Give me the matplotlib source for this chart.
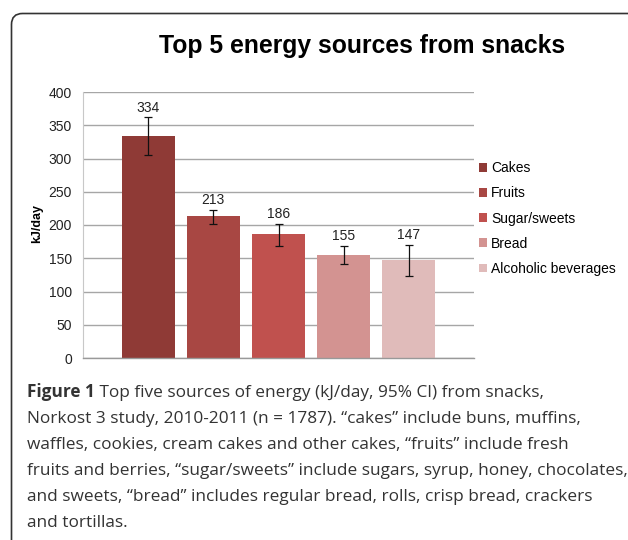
import matplotlib
matplotlib.use('Agg')
import matplotlib.pyplot as plt
from matplotlib.patches import FancyBboxPatch, Patch

# data
categories = ['Cakes', 'Fruits', 'Sugar/sweets', 'Bread', 'Alcoholic beverages']
values = [334, 213, 186, 155, 147]
ci_low = [306, 201, 169, 141, 124]
ci_high = [362, 223, 202, 169, 170]
colors = ['#8f3a36', '#a84743', '#c0514e', '#d39391', '#e0bbba']
yticks = [0, 50, 100, 150, 200, 250, 300, 350, 400]

caption_first = ' Top five sources of energy (kJ/day, 95% CI) from snacks,'
caption_lines = [
    'Norkost 3 study, 2010-2011 (n = 1787). \u201ccakes\u201d include buns, muffins,',
    'waffles, cookies, cream cakes and other cakes, \u201cfruits\u201d include fresh',
    'fruits and berries, \u201csugar/sweets\u201d include sugars, syrup, honey, chocolates,',
    'and sweets, \u201cbread\u201d includes regular bread, rolls, crisp bread, crackers',
    'and tortillas.',
]

W, H = 628, 540
fig = plt.figure(figsize=(W / 100, H / 100), dpi=100)

# background frame, in pixel units
bg = fig.add_axes([0, 0, 1, 1])
bg.set_xlim(0, W)
bg.set_ylim(H, 0)
bg.axis('off')
bg.add_patch(FancyBboxPatch((11.5, 13.5), 630, 560,
                            boxstyle='round,pad=0,rounding_size=11',
                            fc='white', ec='#333333', lw=1.2))

ax = fig.add_axes([83 / W, 1 - 358 / H, (474 - 83) / W, (358 - 92) / H])
ax.set_facecolor('none')

x = list(range(len(values)))
err_lo = [v - l for v, l in zip(values, ci_low)]
err_hi = [h - v for v, h in zip(values, ci_high)]
ax.bar(x, values, width=0.81, color=colors, zorder=2)
ax.errorbar(x, values, yerr=[err_lo, err_hi], fmt='none', ecolor='#111111',
            elinewidth=0.9, capsize=3, capthick=0.9, zorder=3)
for xi, v, h in zip(x, values, ci_high):
    ax.annotate(str(v), (xi, h), xytext=(0, 7), textcoords='offset points',
                ha='center', va='center', fontsize=10, color='#222222',
                family='Liberation Sans')

ax.set_xlim(-1, 5)
ax.set_ylim(0, 400)
ax.set_yticks(yticks)
ax.set_yticklabels([str(t) for t in yticks], fontsize=10, family='Liberation Sans',
                   color='#222222')
ax.set_xticks([])
ax.tick_params(axis='y', length=0, pad=8)
ax.grid(axis='y', color='#a6a6a6', lw=1, zorder=0)
ax.set_axisbelow(True)
for s in ['top', 'right']:
    ax.spines[s].set_visible(False)
ax.spines['left'].set_color('#c8c8c8')
ax.spines['left'].set_linewidth(0.8)
ax.spines['bottom'].set_color('#999999')
ax.spines['bottom'].set_linewidth(1)

handles = [Patch(facecolor=c, edgecolor='none', label=l) for c, l in zip(colors, categories)]
fig.legend(handles=handles, loc='center left', bbox_to_anchor=(479 / W, 1 - 218.5 / H),
           frameon=False, borderpad=0, borderaxespad=0, handlelength=0.58,
           handleheight=0.58, handletextpad=0.3, labelspacing=0.8,
           prop={'family': 'Liberation Sans', 'size': 10})

fig.text(362 / W, 1 - 46 / H, 'Top 5 energy sources from snacks', ha='center',
         va='center', fontsize=17.8, fontweight='bold', family='Liberation Sans')
fig.text(37 / W, 1 - 224 / H, 'kJ/day', rotation=90, ha='center', va='center',
         fontsize=9, fontweight='bold', family='Liberation Sans')

# caption
cap_kw = dict(fontsize=12.4, family='Open Sans', color='#333333')
fig_lbl = fig.text(27 / W, 1 - 396.7 / H, 'Figure 1', va='baseline',
                   fontweight='bold', **cap_kw)
ax.annotate(caption_first, xy=(1, 0), xycoords=fig_lbl, va='bottom', ha='left',
            annotation_clip=False, **cap_kw)
for i, line in enumerate(caption_lines):
    fig.text(27 / W, 1 - (396.7 + 26 * (i + 1)) / H, line, va='baseline', **cap_kw)

fig.savefig('out.png', dpi=100)
